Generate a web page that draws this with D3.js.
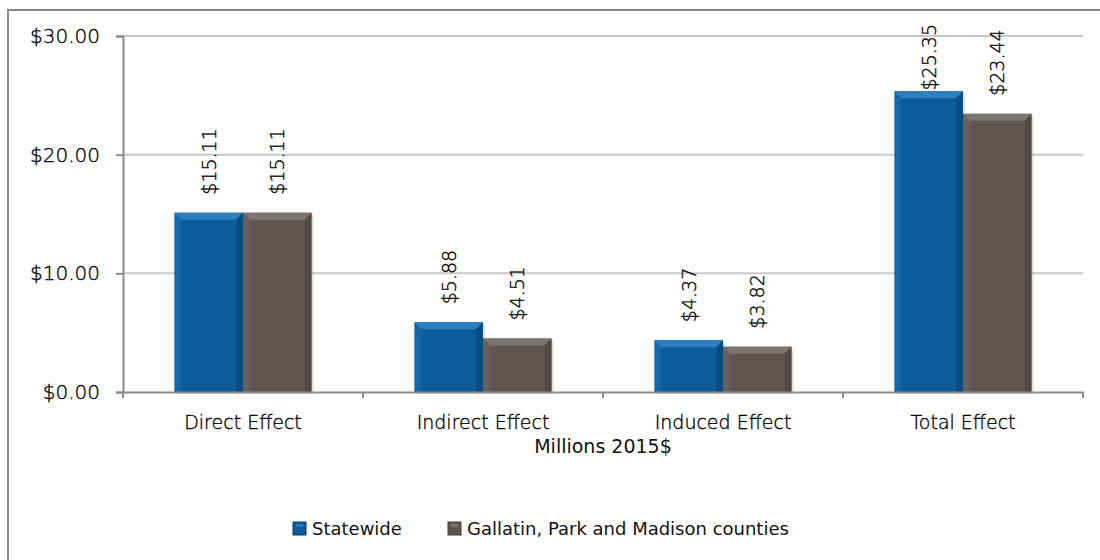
<!DOCTYPE html>
<html>
<head>
<meta charset="utf-8">
<script src="https://cdn.jsdelivr.net/npm/d3@7"></script>
<style>
  html, body { margin: 0; padding: 0; background: #fff; }
  svg { display: block; }
  text { font-family: "DejaVu Sans", sans-serif; fill: #111; }
  .light { font-weight: 200; fill: #000; stroke: #000; stroke-width: 0.35px; }
</style>
</head>
<body>
<svg id="chart" width="1100" height="560"></svg>
<script>
// Economic effects, millions of 2015 dollars
const categories = ["Direct Effect", "Indirect Effect", "Induced Effect", "Total Effect"];
const seriesNames = ["Statewide", "Gallatin, Park and Madison counties"];
const statewide = [15.11, 5.88, 4.37, 25.35];
const regional = [15.11, 4.51, 3.82, 23.44];
const yTicks = [0, 10, 20, 30];
const seriesColors = ["#0c5b9b", "#5e5751"];
const seriesLight = ["#2f7fc0", "#7d7670"];
const seriesDark = ["#083f6d", "#433d38"];

const svg = d3.select("#chart");
const W = 1100, H = 560;
const plot = { left: 123, right: 1083, top: 36, bottom: 392 };

// outer chart frame
svg.append("rect")
  .attr("x", 8).attr("y", 10)
  .attr("width", W + 10).attr("height", H + 10)
  .attr("fill", "#fff").attr("stroke", "#878787").attr("stroke-width", 2);

const x0 = d3.scaleBand().domain(categories).range([plot.left, plot.right]).paddingInner(0).paddingOuter(0);
const y = d3.scaleLinear().domain([0, 30]).range([plot.bottom, plot.top]);

// bar width: gap between groups is 150% of a single bar
const groupW = x0.bandwidth();
const barW = groupW / (2 + 1.5);
const x1 = d3.scaleBand().domain(seriesNames)
  .range([(groupW - 2 * barW) / 2, (groupW + 2 * barW) / 2]).padding(0);

// gridlines
svg.append("g").selectAll("line").data(yTicks.filter(d => d > 0)).join("line")
  .attr("x1", plot.left).attr("x2", plot.right)
  .attr("y1", d => y(d)).attr("y2", d => y(d))
  .attr("stroke", "#c8c8c8").attr("stroke-width", 2);

// y axis
const yAxis = d3.axisLeft(y).tickValues(yTicks).tickSize(7).tickPadding(16)
  .tickFormat(d => "$" + d3.format(".2f")(d));
const gy = svg.append("g").attr("transform", `translate(${plot.left},0)`).call(yAxis);
gy.select(".domain").attr("stroke", "#8c8c8c").attr("stroke-width", 2);
gy.selectAll(".tick line").attr("stroke", "#8c8c8c").attr("stroke-width", 2);
gy.selectAll(".tick text").attr("font-size", 20).attr("fill", null)
  .attr("class", "light").style("font-family", "'DejaVu Sans', sans-serif");

// bars
const rows = categories.map((c, i) => ({ cat: c, vals: [statewide[i], regional[i]] }));
const bevel = 7;
const groups = svg.append("g").selectAll("g").data(rows).join("g")
  .attr("transform", d => `translate(${x0(d.cat)},0)`);

groups.each(function (row) {
  const g = d3.select(this);
  row.vals.forEach((v, si) => {
    const bx = x1(seriesNames[si]);
    const top = y(v), bot = y(0), w = x1.bandwidth();
    const bar = g.append("g");
    // soft shadow
    bar.append("rect").attr("x", bx + 2).attr("y", top + 2).attr("width", w).attr("height", bot - top)
      .attr("fill", "#000").attr("opacity", 0.12);
    bar.append("rect").attr("x", bx).attr("y", top).attr("width", w).attr("height", bot - top)
      .attr("fill", seriesColors[si]);
    // bevelled edges
    bar.append("polygon")
      .attr("points", [[bx, top], [bx + w, top], [bx + w - bevel, top + bevel], [bx + bevel, top + bevel]].join(" "))
      .attr("fill", seriesLight[si]);
    bar.append("polygon")
      .attr("points", [[bx, top], [bx + bevel, top + bevel], [bx + bevel, bot], [bx, bot]].join(" "))
      .attr("fill", seriesLight[si]).attr("opacity", 0.35);
    bar.append("polygon")
      .attr("points", [[bx + w, top], [bx + w - bevel, top + bevel], [bx + w - bevel, bot], [bx + w, bot]].join(" "))
      .attr("fill", seriesDark[si]).attr("opacity", 0.5);

    // rotated value label, kept inside the chart frame
    const cx = bx + w / 2;
    const label = g.append("text")
      .attr("class", "light")
      .attr("text-anchor", "start")
      .attr("dominant-baseline", "central")
      .attr("font-size", 19)
      .text("$" + d3.format(".2f")(v));
    const len = label.node().getComputedTextLength();
    const base = Math.max(top - 18, 24 + len);
    label.attr("transform", `translate(${cx},${base}) rotate(-90)`);
  });
});

// x axis
const xAxis = d3.axisBottom(x0).tickSize(0).tickPadding(0);
const gx = svg.append("g").attr("transform", `translate(0,${plot.bottom})`).call(xAxis);
gx.select(".domain").attr("stroke", "#8c8c8c").attr("stroke-width", 2);
gx.selectAll(".tick text").attr("font-size", 19).attr("fill", null)
  .attr("class", "light").attr("dy", null).attr("y", 37)
  .style("font-family", "'DejaVu Sans', sans-serif");
// category separators
svg.append("g").selectAll("line").data(categories.map(c => x0(c)).concat([plot.right])).join("line")
  .attr("x1", d => d).attr("x2", d => d)
  .attr("y1", plot.bottom).attr("y2", plot.bottom + 6)
  .attr("stroke", "#8c8c8c").attr("stroke-width", 2);

// axis title
svg.append("text")
  .attr("x", (plot.left + plot.right) / 2).attr("y", 453)
  .attr("text-anchor", "middle").attr("font-size", 19)
  .text("Millions 2015$");

// legend
const legend = svg.append("g");
const legendItems = [{ x: 293, name: seriesNames[0] }, { x: 448, name: seriesNames[1] }];
legendItems.forEach((it, i) => {
  legend.append("rect").attr("x", it.x).attr("y", 522).attr("width", 13).attr("height", 13)
    .attr("fill", seriesColors[i]).attr("stroke", seriesDark[i]).attr("stroke-width", 1);
  legend.append("rect").attr("x", it.x + 3).attr("y", 524).attr("width", 7).attr("height", 3)
    .attr("fill", seriesLight[i]);
  legend.append("text").attr("x", it.x + 19).attr("y", 535)
    .attr("font-size", 18).text(it.name);
});
</script>
</body>
</html>
